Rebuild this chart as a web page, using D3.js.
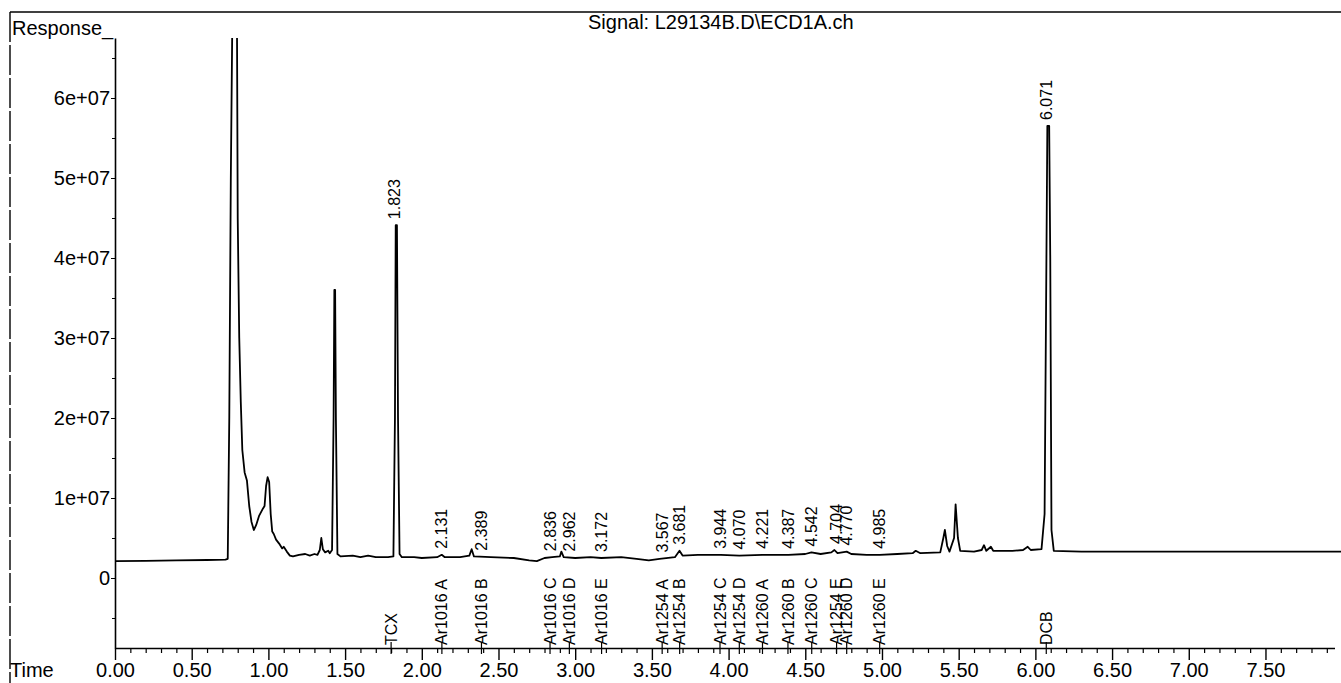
<!DOCTYPE html>
<html><head><meta charset="utf-8">
<script src="https://cdn.jsdelivr.net/npm/d3@7"></script>
<style>
html,body{margin:0;padding:0;background:#fff;overflow:hidden}
svg{display:block}
text{font-family:"Liberation Sans",Arial,Helvetica,sans-serif;fill:#000}
</style></head>
<body>
<svg id="c" width="1341" height="683"></svg>
<script>
// ---- data ----
const title = "Signal: L29134B.D\\ECD1A.ch";
const yTitle = "Response_";
const xTitle = "Time";
// retention time (min)
const traceTime = [0.00,0.20,0.40,0.60,0.72,0.735,0.745,0.755,0.765,0.795,0.80,0.81,0.82,0.83,0.845,0.86,0.875,0.89,0.905,0.92,0.94,0.965,0.975,0.985,0.995,1.005,1.015,1.025,1.035,1.05,1.07,1.09,1.10,1.12,1.14,1.16,1.20,1.24,1.27,1.30,1.32,1.335,1.345,1.355,1.37,1.39,1.40,1.415,1.425,1.43,1.435,1.44,1.45,1.47,1.55,1.60,1.65,1.70,1.78,1.815,1.825,1.83,1.838,1.845,1.855,1.87,1.95,2.00,2.10,2.13,2.15,2.25,2.31,2.325,2.34,2.45,2.60,2.70,2.75,2.80,2.85,2.90,2.91,2.925,3.00,3.10,3.17,3.30,3.40,3.48,3.55,3.65,3.68,3.70,3.80,3.95,4.07,4.22,4.39,4.50,4.54,4.60,4.67,4.69,4.71,4.77,4.80,4.90,4.985,5.10,5.20,5.22,5.25,5.38,5.40,5.41,5.425,5.44,5.47,5.48,5.495,5.51,5.60,5.65,5.665,5.68,5.71,5.725,5.85,5.92,5.95,5.97,6.04,6.06,6.072,6.078,6.09,6.097,6.105,6.12,6.30,7.00,8.00];
// response (counts)
const traceResp = [2.1e6,2.15e6,2.2e6,2.25e6,2.3e6,2.4e6,2.0e7,5.0e7,7.0e7,7.0e7,4.5e7,3.0e7,2.2e7,1.6e7,1.32e7,1.22e7,9.0e6,7.0e6,6.0e6,6.6e6,7.8e6,8.7e6,9.0e6,1.15e7,1.26e7,1.2e7,8.0e6,5.8e6,5.5e6,4.8e6,4.3e6,3.7e6,3.9e6,3.3e6,2.8e6,2.7e6,2.9e6,3.0e6,2.8e6,3.0e6,2.9e6,3.5e6,5.0e6,3.6e6,3.2e6,3.4e6,3.1e6,3.5e6,2.0e7,3.6e7,3.6e7,2.0e7,3.0e6,2.7e6,2.8e6,2.6e6,2.8e6,2.6e6,2.6e6,2.7e6,2.0e7,4.41e7,4.41e7,2.0e7,3.0e6,2.6e6,2.6e6,2.5e6,2.6e6,2.9e6,2.6e6,2.6e6,2.8e6,3.6e6,2.7e6,2.6e6,2.5e6,2.2e6,2.1e6,2.5e6,2.6e6,2.7e6,3.3e6,2.6e6,2.5e6,2.6e6,2.5e6,2.6e6,2.4e6,2.2e6,2.4e6,2.6e6,3.4e6,2.8e6,2.9e6,2.9e6,2.8e6,2.9e6,2.9e6,3.0e6,3.2e6,3.0e6,3.2e6,3.5e6,3.1e6,3.3e6,3.0e6,2.9e6,2.9e6,3.0e6,3.1e6,3.4e6,3.1e6,3.2e6,5.0e6,6.0e6,4.0e6,3.3e6,5.0e6,9.2e6,5.0e6,3.4e6,3.3e6,3.5e6,4.1e6,3.4e6,3.9e6,3.4e6,3.4e6,3.5e6,3.9e6,3.5e6,3.6e6,8.0e6,4.0e7,5.65e7,5.65e7,4.0e7,6.0e6,3.4e6,3.3e6,3.3e6,3.3e6];
// labelled peaks (retention times printed above the trace)
const peakLabels = ["1.823","2.131","2.389","2.836","2.962","3.172","3.567","3.681","3.944","4.070","4.221","4.387","4.542","4.704","4.770","4.985","6.071"];
// compound names and their expected retention times
const compoundNames = ["TCX","Ar1016 A","Ar1016 B","Ar1016 C","Ar1016 D","Ar1016 E","Ar1254 A","Ar1254 B","Ar1254 C","Ar1254 D","Ar1260 A","Ar1260 B","Ar1260 C","Ar1254 E","Ar1260 D","Ar1260 E","DCB"];
const compoundTimes = [1.80,2.131,2.389,2.836,2.962,3.172,3.567,3.681,3.944,4.070,4.221,4.387,4.542,4.704,4.770,4.985,6.071];
const xTickValues = [0,0.5,1,1.5,2,2.5,3,3.5,4,4.5,5,5.5,6,6.5,7,7.5];
const xTickLabels = ["0.00","0.50","1.00","1.50","2.00","2.50","3.00","3.50","4.00","4.50","5.00","5.50","6.00","6.50","7.00","7.50"];
const yTickValues = [0,1e7,2e7,3e7,4e7,5e7,6e7];
const yTickLabels = ["0","1e+07","2e+07","3e+07","4e+07","5e+07","6e+07"];

// ---- layout ----
const svg = d3.select("#c");
const x = d3.scaleLinear().domain([0,7.95]).range([115,1334.5]);
const y = d3.scaleLinear().domain([-8.75e6,6.75e7]).range([648,38]);
const X0 = x.range()[0], Y0 = y.range()[0], YT = y.range()[1];

// outer frame
svg.append("line").attr("x1",10).attr("x2",1341).attr("y1",12).attr("y2",12).attr("stroke","#000").attr("stroke-width",1.6);
svg.append("line").attr("x1",10).attr("x2",10).attr("y1",12).attr("y2",683).attr("stroke","#000").attr("stroke-width",1.4).attr("stroke-dasharray","30,3");

// titles
svg.append("text").attr("x",588).attr("y",29).attr("font-size",20).text(title);
svg.append("text").attr("x",12).attr("y",35).attr("font-size",20).text(yTitle);
svg.append("text").attr("x",10).attr("y",677).attr("font-size",20).text(xTitle);

// x axis
const xAxis = d3.axisBottom(x).tickValues(xTickValues).tickSize(12).tickSizeOuter(0)
  .tickFormat((d,i)=>xTickLabels[i]);
const gx = svg.append("g").attr("transform",`translate(0,${Y0})`).call(xAxis);
gx.select(".domain").attr("stroke-width",1.6);
gx.selectAll(".tick line").attr("stroke-width",1.4);
gx.selectAll(".tick text").attr("font-size",20).attr("font-family","Liberation Sans, Arial, sans-serif").attr("y",null).attr("dy",null).attr("transform","translate(0,29)");
const xMinor = d3.axisBottom(x).tickValues(d3.range(0,80).map(i=>i/10).filter(v=>Math.round(v*10)%5!==0)).tickSize(5).tickFormat("");
const gxm = svg.append("g").attr("transform",`translate(0,${Y0})`).call(xMinor);
gxm.select(".domain").remove();
gxm.selectAll(".tick line").attr("stroke-width",1.2);

// y axis
const yAxis = d3.axisLeft(y).tickValues(yTickValues).tickSize(4).tickSizeOuter(0)
  .tickFormat((d,i)=>yTickLabels[i]);
const gy = svg.append("g").attr("transform",`translate(${X0},0)`).call(yAxis);
gy.select(".domain").attr("stroke-width",1.6);
gy.selectAll(".tick text").attr("font-size",20).attr("font-family","Liberation Sans, Arial, sans-serif").attr("x",-5);
const yMinor = d3.axisLeft(y).tickValues([-5e6,5e6,1.5e7,2.5e7,3.5e7,4.5e7,5.5e7,6.5e7]).tickSize(3).tickFormat("");
const gym = svg.append("g").attr("transform",`translate(${X0},0)`).call(yMinor);
gym.select(".domain").remove();

// trace
const pts = traceTime.map((t,i)=>[t,traceResp[i]]);
svg.append("clipPath").attr("id","plot").append("rect").attr("x",X0).attr("y",YT).attr("width",1341-X0).attr("height",Y0-YT);
svg.append("path").datum(pts).attr("clip-path","url(#plot)")
  .attr("fill","none").attr("stroke","#000").attr("stroke-width",1.8).attr("stroke-linejoin","round")
  .attr("d",d3.line().x(d=>x(d[0])).y(d=>y(d[1])));

// value of the trace at time t (linear between read points)
function traceAt(t){
  const i = d3.bisectRight(traceTime,t);
  if (i<=0) return traceResp[0];
  if (i>=traceTime.length) return traceResp[traceResp.length-1];
  const t0=traceTime[i-1], t1=traceTime[i], f=(t-t0)/(t1-t0);
  return traceResp[i-1]+(traceResp[i]-traceResp[i-1])*f;
}
function localMax(t){
  let m = traceAt(t);
  pts.forEach(p=>{ if (Math.abs(p[0]-t)<=0.03) m=Math.max(m,p[1]); });
  return m;
}
peakLabels.forEach(s=>{
  const t = +s;
  const px = x(t), py = y(localMax(t)) - 6;
  svg.append("text").attr("transform",`translate(${px},${py}) rotate(-90)`)
    .attr("font-size",16).attr("dy","0.35em").attr("text-anchor","start").text(s);
});

// compound labels along the time axis
compoundNames.forEach((n,i)=>{
  const px = x(compoundTimes[i]);
  svg.append("line").attr("x1",px).attr("x2",px).attr("y1",Y0-6).attr("y2",Y0+6).attr("stroke","#000").attr("stroke-width",1.2);
  svg.append("text").attr("transform",`translate(${px},${Y0-3}) rotate(-90)`)
    .attr("font-size",16).attr("dy","0.35em").attr("text-anchor","start").text(n);
});
</script>
</body></html>
